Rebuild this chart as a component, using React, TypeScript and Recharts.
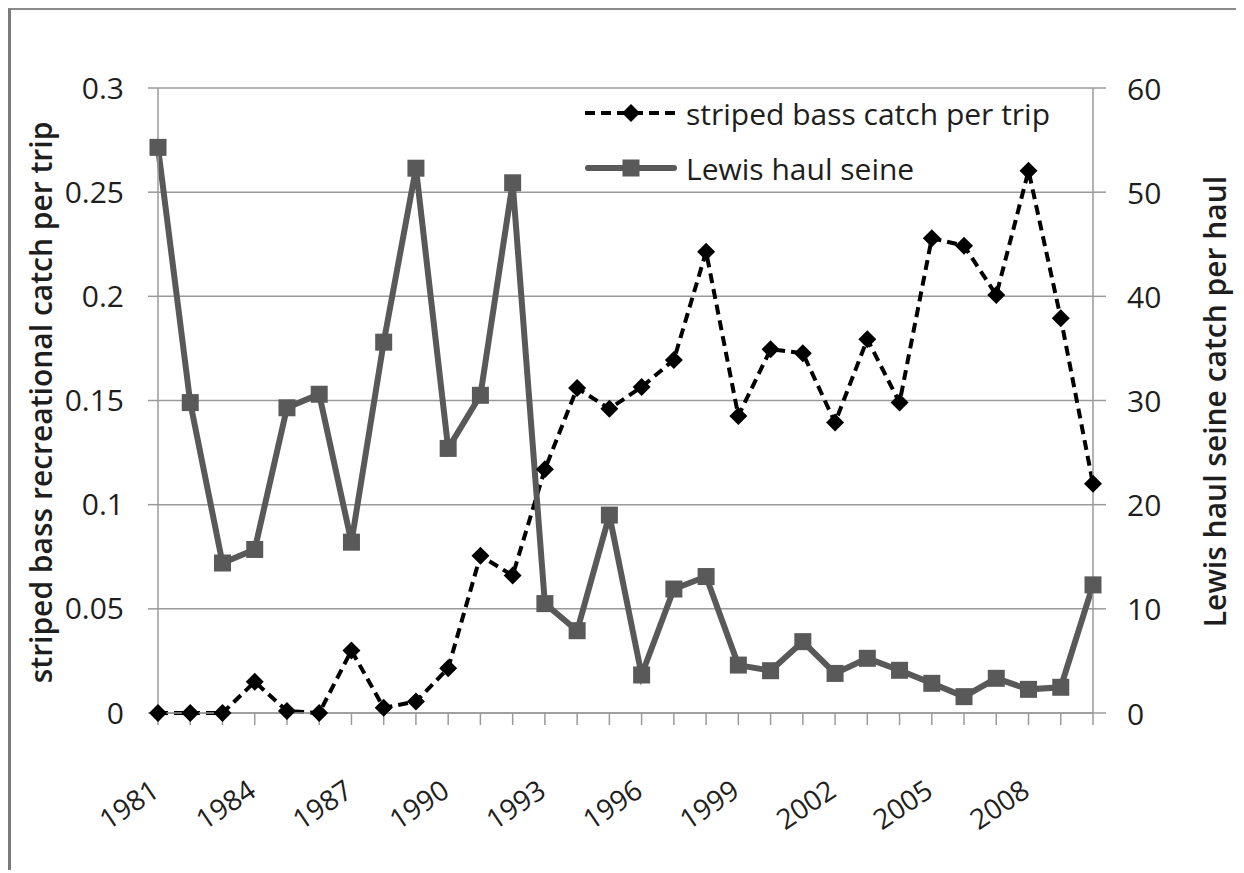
import { LineChart, Line, XAxis, YAxis, CartesianGrid, Legend } from 'recharts';

const years = [
  '1981', '1982', '1983', '1984', '1985', '1986', '1987', '1988', '1989', '1990',
  '1991', '1992', '1993', '1994', '1995', '1996', '1997', '1998', '1999', '2000',
  '2001', '2002', '2003', '2004', '2005', '2006', '2007', '2008', '2009', '2010',
];
const labeledYears = ['1981', '1984', '1987', '1990', '1993', '1996', '1999', '2002', '2005', '2008'];

// striped bass recreational catch per trip (left axis)
const stripedBass = [
  0, 0, 0, 0.015, 0.001, 0, 0.03, 0.0025, 0.0055, 0.0215,
  0.0755, 0.066, 0.117, 0.156, 0.146, 0.1565, 0.1695, 0.2214, 0.1426, 0.1746,
  0.1727, 0.1394, 0.1794, 0.149, 0.2279, 0.2243, 0.2006, 0.2603, 0.1895, 0.11,
];
// Lewis haul seine catch per haul (right axis)
const lewisSeine = [
  54.3, 29.8, 14.4, 15.7, 29.3, 30.6, 16.4, 35.6, 52.3, 25.4,
  30.5, 50.9, 10.5, 7.9, 19.0, 3.65, 11.9, 13.1, 4.6, 4.06,
  6.85, 3.8, 5.25, 4.1, 2.85, 1.57, 3.33, 2.27, 2.47, 12.3,
];

const leftTicks = [0, 0.05, 0.1, 0.15, 0.2, 0.25, 0.3];
const rightTicks = [0, 10, 20, 30, 40, 50, 60];

const data = years.map((year, i) => ({ year, bass: stripedBass[i], lewis: lewisSeine[i] }));

const FONT = '"Open Sans", sans-serif';
const TEXT = '#1e1e1e';
const GRID = '#9a9a9a';
const LEWIS = '#595959';

const Diamond = (props: any) => {
  const { cx, cy, index } = props;
  if (cx == null || cy == null) return <g key={index} />;
  const r = 9;
  return <path key={index} d={`M${cx},${cy - r}L${cx + r},${cy}L${cx},${cy + r}L${cx - r},${cy}Z`} fill="#000" />;
};

const Square = (props: any) => {
  const { cx, cy, index } = props;
  if (cx == null || cy == null) return <g key={index} />;
  const s = 17;
  return <rect key={index} x={cx - s / 2} y={cy - s / 2} width={s} height={s} fill={LEWIS} />;
};

const YearTick = (props: any) => {
  const { x, y, payload } = props;
  if (!labeledYears.includes(payload.value)) return <g />;
  const tx = x + 3;
  const ty = y + 68;
  return (
    <text x={tx} y={ty} textAnchor="end" fontFamily={FONT} fontSize={28} fill={TEXT}
      transform={`rotate(-34, ${tx}, ${ty})`}>
      {payload.value}
    </text>
  );
};

// right axis numbers, drawn start-anchored just past the tick marks
const RightTick = (props: any) => {
  const { y, payload } = props;
  return (
    <text x={1116} y={y} textAnchor="start" dominantBaseline="central" fontFamily={FONT} fontSize={30} fill={TEXT}>
      {payload.value}
    </text>
  );
};

const renderLegend = () => (
  <div style={{ fontFamily: FONT, fontSize: 30, color: TEXT, whiteSpace: 'nowrap' }}>
    <div style={{ display: 'flex', alignItems: 'center', height: 40 }}>
      <svg width={92} height={24}>
        <line x1={0} y1={12} x2={92} y2={12} stroke="#000" strokeWidth={4} strokeDasharray="10 6" />
        <Diamond cx={46} cy={12} index={0} />
      </svg>
      <span style={{ marginLeft: 9 }}>striped bass catch per trip</span>
    </div>
    <div style={{ display: 'flex', alignItems: 'center', height: 40, marginTop: 15 }}>
      <svg width={92} height={24}>
        <line x1={3} y1={12} x2={89} y2={12} stroke={LEWIS} strokeWidth={6} strokeLinecap="round" />
        <Square cx={46} cy={12} index={0} />
      </svg>
      <span style={{ marginLeft: 9 }}>Lewis haul seine</span>
    </div>
  </div>
);

const LeftTitle = (props: any) => {
  const { viewBox } = props;
  const x = 29;
  const y = viewBox.y + viewBox.height / 2 + 2;
  return (
    <text x={x} y={y} textAnchor="middle" dominantBaseline="central" fontFamily={FONT}
      fontSize={30} fontWeight={600} fill={TEXT} transform={`rotate(-90, ${x}, ${y})`}>
      striped bass recreational catch per trip
    </text>
  );
};

const RightTitle = (props: any) => {
  const { viewBox } = props;
  const x = 1203;
  const y = viewBox.y + viewBox.height / 2 + 1;
  return (
    <text x={x} y={y} textAnchor="middle" dominantBaseline="central" fontFamily={FONT}
      fontSize={30} fontWeight={600} fill={TEXT} transform={`rotate(-90, ${x}, ${y})`}>
      Lewis haul seine catch per haul
    </text>
  );
};

export default function App() {
  return (
    <div style={{ width: 1233, height: 860, borderLeft: '3px solid #7a7a7a', borderTop: '2px solid #8a8a8a', background: '#fff' }}>
      <LineChart width={1233} height={860} data={data} margin={{ top: 78, right: 0, left: 0, bottom: 0 }}>
        <CartesianGrid yAxisId="left" vertical={false} stroke={GRID} strokeWidth={1.5} />
        <XAxis
          dataKey="year"
          interval={0}
          height={157}
          tickSize={12}
          tickMargin={2}
          tick={<YearTick />}
          axisLine={{ stroke: GRID, strokeWidth: 1.5 }}
          tickLine={{ stroke: GRID, strokeWidth: 1.5 }}
        />
        <YAxis
          yAxisId="left"
          domain={[0, 0.3]}
          ticks={leftTicks}
          width={147}
          tickSize={10}
          tickMargin={24}
          tickFormatter={(v: number) => String(v)}
          tick={{ fontFamily: FONT, fontSize: 30, fill: TEXT }}
          axisLine={{ stroke: GRID, strokeWidth: 1.5 }}
          tickLine={{ stroke: GRID, strokeWidth: 1.5 }}
          label={{ content: <LeftTitle /> }}
        />
        <YAxis
          yAxisId="right"
          orientation="right"
          domain={[0, 60]}
          ticks={rightTicks}
          width={151}
          tickSize={13}
          tick={<RightTick />}
          axisLine={{ stroke: GRID, strokeWidth: 1.5 }}
          tickLine={{ stroke: GRID, strokeWidth: 1.5 }}
          label={{ content: <RightTitle /> }}
        />
        <Legend
          layout="vertical"
          align="center"
          verticalAlign="middle"
          content={renderLegend}
          wrapperStyle={{ left: 574, top: 83, width: 'auto' }}
        />
        <Line
          yAxisId="left"
          dataKey="bass"
          name="striped bass catch per trip"
          stroke="#000"
          strokeWidth={4}
          strokeDasharray="10 6"
          dot={<Diamond />}
          activeDot={false}
          isAnimationActive={false}
        />
        <Line
          yAxisId="right"
          dataKey="lewis"
          name="Lewis haul seine"
          stroke={LEWIS}
          strokeWidth={6}
          dot={<Square />}
          activeDot={false}
          isAnimationActive={false}
        />
      </LineChart>
    </div>
  );
}
